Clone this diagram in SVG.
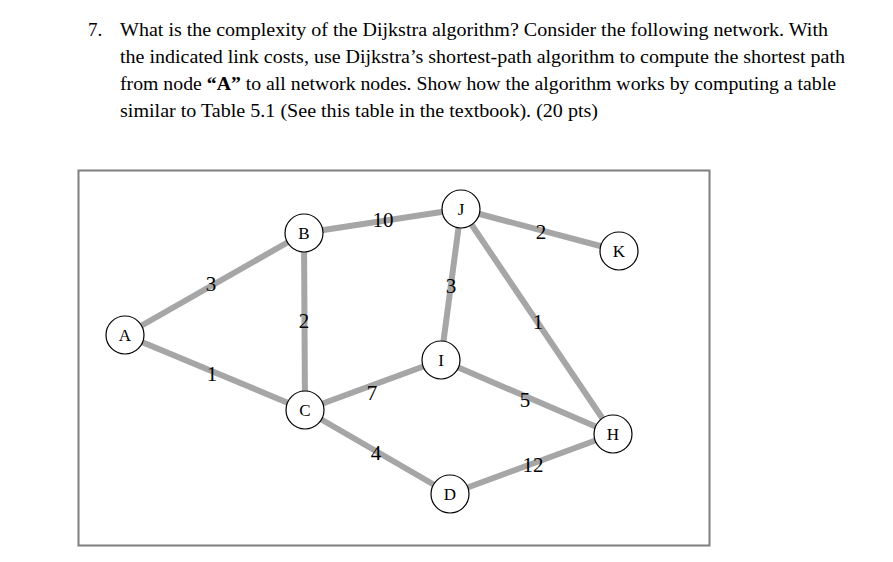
<svg xmlns="http://www.w3.org/2000/svg" width="893" height="562" viewBox="0 0 893 562">
<style>
.q{font-family:"Liberation Serif",serif;font-size:19px;fill:#000}
.e line{stroke:#a6a6a6;stroke-width:6}
.n circle{fill:#fff;stroke:#000;stroke-width:1.2}
.n text,.l{font-family:"Liberation Serif",serif;font-size:17px;fill:#000;text-anchor:middle}
.l{font-size:21px}
</style>
<rect width="893" height="562" fill="#fff"/>
<text class="q" x="88" y="36">7.</text>
<text class="q" x="120" y="36" textLength="708" lengthAdjust="spacingAndGlyphs">What is the complexity of the Dijkstra algorithm? Consider the following network. With</text>
<text class="q" x="120" y="63" textLength="725" lengthAdjust="spacingAndGlyphs">the indicated link costs, use Dijkstra’s shortest-path algorithm to compute the shortest path</text>
<text class="q" x="120" y="90" textLength="716" lengthAdjust="spacingAndGlyphs">from node <tspan font-weight="bold">“A”</tspan> to all network nodes. Show how the algorithm works by computing a table</text>
<text class="q" x="120" y="117" textLength="478" lengthAdjust="spacingAndGlyphs">similar to Table 5.1 (See this table in the textbook). (20 pts)</text>
<rect x="78.5" y="170.5" width="631" height="375" fill="none" stroke="#7f7f7f" stroke-width="2"/>
<g class="e" id="edges">
<line x1="125" y1="335" x2="304" y2="233"/>
<line x1="125" y1="335" x2="305" y2="410"/>
<line x1="304" y1="233" x2="461" y2="209"/>
<line x1="304" y1="233" x2="305" y2="410"/>
<line x1="461" y1="209" x2="619" y2="251"/>
<line x1="461" y1="209" x2="441" y2="360"/>
<line x1="461" y1="209" x2="613" y2="434"/>
<line x1="441" y1="360" x2="305" y2="410"/>
<line x1="441" y1="360" x2="613" y2="434"/>
<line x1="305" y1="410" x2="450" y2="494"/>
<line x1="450" y1="494" x2="613" y2="434"/>
<text class="l" x="211" y="291">3</text>
<text class="l" x="212" y="381">1</text>
<text class="l" x="383" y="227">10</text>
<text class="l" x="304" y="328">2</text>
<text class="l" x="541" y="239">2</text>
<text class="l" x="451" y="293">3</text>
<text class="l" x="538" y="329">1</text>
<text class="l" x="372" y="400">7</text>
<text class="l" x="525" y="407">5</text>
<text class="l" x="376" y="460">4</text>
<text class="l" x="533" y="472">12</text>
</g>
<g class="n" id="A"><circle cx="125" cy="335" r="19"/><text x="125" y="341">A</text></g>
<g class="n" id="B"><circle cx="304" cy="233" r="19"/><text x="304" y="239">B</text></g>
<g class="n" id="J"><circle cx="461" cy="209" r="19"/><text x="461" y="215">J</text></g>
<g class="n" id="K"><circle cx="619" cy="251" r="19"/><text x="619" y="257">K</text></g>
<g class="n" id="I"><circle cx="441" cy="360" r="19"/><text x="441" y="366">I</text></g>
<g class="n" id="C"><circle cx="305" cy="410" r="19"/><text x="305" y="416">C</text></g>
<g class="n" id="H"><circle cx="613" cy="434" r="19"/><text x="613" y="440">H</text></g>
<g class="n" id="D"><circle cx="450" cy="494" r="19"/><text x="450" y="500">D</text></g>
</svg>
